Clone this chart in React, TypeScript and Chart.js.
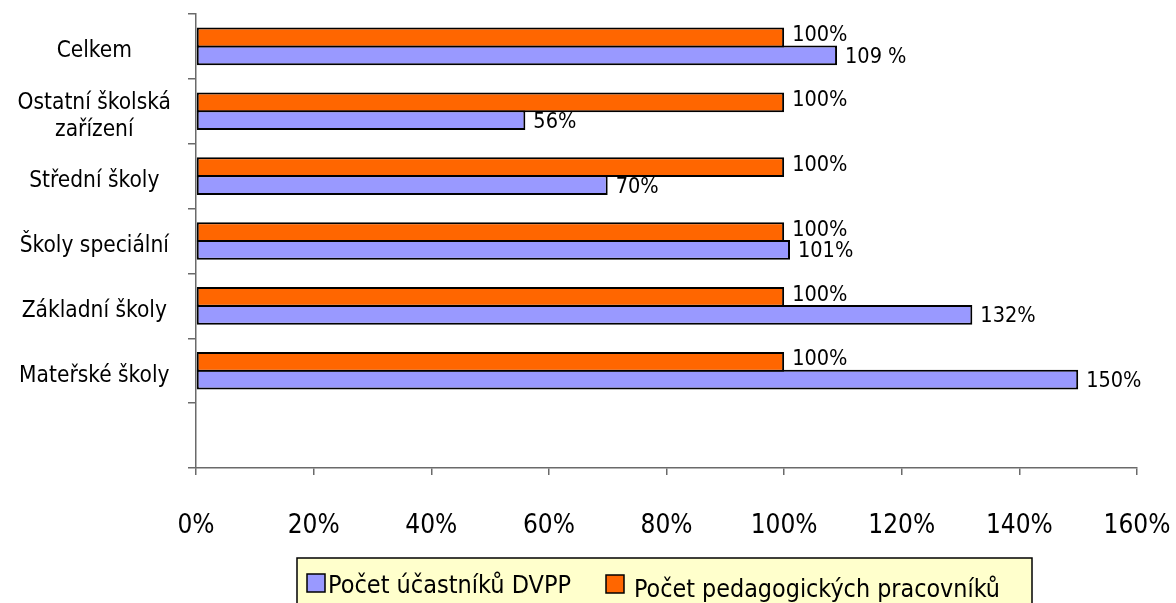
import React, { useEffect, useRef } from "react";
import { Chart, registerables } from "chart.js";

Chart.register(...registerables);

const categories: (string | string[])[] = [
  "Celkem",
  ["Ostatní školská", "zařízení"],
  "Střední školy",
  "Školy speciální",
  "Základní školy",
  "Mateřské školy",
  "",
];
const ucastniciDVPP = [109, 56, 70, 101, 132, 150, null];
const pedagogictiPracovnici = [100, 100, 100, 100, 100, 100, null];
const ucastniciLabels = ["109 %", "56%", "70%", "101%", "132%", "150%", ""];
const pracovniciLabels = ["100%", "100%", "100%", "100%", "100%", "100%", ""];
const xTickLabels = ["0%", "20%", "40%", "60%", "80%", "100%", "120%", "140%", "160%"];
const seriesNames = ["Počet účastníků DVPP", "Počet pedagogických pracovníků"];

const BLUE = "#9999FF";
const ORANGE = "#FF6600";
const AXIS = "#6a6a6a";
const FONT = "'DejaVu Sans Condensed', 'DejaVu Sans', sans-serif";

const zeroPadding = (scale: any) => {
  scale.paddingTop = 0;
  scale.paddingBottom = 0;
  scale.paddingLeft = 0;
  scale.paddingRight = 0;
};

const dataLabelPlugin = {
  id: "dataLabels",
  afterDatasetsDraw(chart: any) {
    const ctx = chart.ctx;
    ctx.save();
    ctx.fillStyle = "#000";
    ctx.font = `21.5px ${FONT}`;
    ctx.textAlign = "left";
    ctx.textBaseline = "middle";
    chart.data.datasets.forEach((ds: any, di: number) => {
      const meta = chart.getDatasetMeta(di);
      const labels: string[] = ds.valueLabels;
      meta.data.forEach((el: any, i: number) => {
        if (ds.data[i] == null || !labels[i]) return;
        const dy = di === 0 ? -2 : 2;
        ctx.fillText(labels[i], el.x + 8, el.y + dy);
      });
    });
    ctx.restore();
  },
};

const legendPlugin = {
  id: "boxLegend",
  afterDraw(chart: any) {
    const ctx = chart.ctx;
    const ds = chart.data.datasets;
    ctx.save();
    ctx.fillStyle = "#FFFFCC";
    ctx.strokeStyle = "#000";
    ctx.lineWidth = 1.5;
    ctx.fillRect(297, 558, 735, 60);
    ctx.strokeRect(297, 558, 735, 60);
    const items = [
      { color: ds[1].backgroundColor, text: ds[1].label, sx: 307, sy: 574, tx: 328, ty: 593, w: 244 },
      { color: ds[0].backgroundColor, text: ds[0].label, sx: 606, sy: 575, tx: 634, ty: 597, w: 366 },
    ];
    ctx.font = `25px ${FONT}`;
    ctx.textBaseline = "alphabetic";
    ctx.textAlign = "left";
    items.forEach((it) => {
      ctx.fillStyle = it.color;
      ctx.fillRect(it.sx, it.sy, 18, 18);
      ctx.strokeStyle = "#000";
      ctx.lineWidth = 1.5;
      ctx.strokeRect(it.sx, it.sy, 18, 18);
      ctx.fillStyle = "#000";
      ctx.fillText(it.text, it.tx, it.ty, it.w);
    });
    ctx.restore();
  },
};

export default function App() {
  const canvasRef = useRef<HTMLCanvasElement>(null);

  useEffect(() => {
    document.body.style.margin = "0";
    const canvas = canvasRef.current;
    if (!canvas) return;
    const chart = new Chart(canvas, {
      type: "bar",
      data: {
        labels: categories as any,
        datasets: [
          {
            label: seriesNames[1],
            data: pedagogictiPracovnici as any,
            backgroundColor: ORANGE,
            borderColor: "#000",
            borderWidth: 2,
            borderSkipped: false,
            barPercentage: 1.11,
            categoryPercentage: 0.55,
            valueLabels: pracovniciLabels,
          } as any,
          {
            label: seriesNames[0],
            data: ucastniciDVPP as any,
            backgroundColor: BLUE,
            borderColor: "#000",
            borderWidth: 2,
            borderSkipped: false,
            barPercentage: 1.11,
            categoryPercentage: 0.55,
            valueLabels: ucastniciLabels,
          } as any,
        ],
      },
      options: {
        indexAxis: "y",
        responsive: false,
        maintainAspectRatio: false,
        animation: false,
        devicePixelRatio: 1,
        layout: { padding: { left: 0, top: 14, right: 39, bottom: 0 } },
        plugins: {
          legend: { display: false },
          tooltip: { enabled: false },
          title: { display: false },
        },
        scales: {
          x: {
            type: "linear",
            min: 0,
            max: 160,
            afterFit: (scale: any) => {
              scale.height = 135;
              zeroPadding(scale);
            },
            ticks: {
              stepSize: 20,
              color: "#000",
              padding: 36,
              font: { family: FONT, size: 26 },
              callback: (_v: any, i: number) => xTickLabels[i],
            },
            grid: {
              drawOnChartArea: false,
              drawTicks: true,
              tickLength: 7,
              color: AXIS,
              lineWidth: 1.5,
            },
            border: { display: true, color: AXIS, width: 1.5 },
          },
          y: {
            type: "category",
            afterFit: (scale: any) => {
              scale.width = 196;
              zeroPadding(scale);
            },
            ticks: {
              color: "#000",
              padding: 17,
              crossAlign: "center",
              autoSkip: false,
              labelOffset: 5,
              font: { family: FONT, size: 22.5 },
            },
            grid: {
              drawOnChartArea: false,
              drawTicks: true,
              tickLength: 8,
              color: AXIS,
              lineWidth: 1.5,
              offset: true,
            },
            border: { display: true, color: AXIS, width: 1.5 },
          },
        },
      } as any,
      plugins: [dataLabelPlugin, legendPlugin],
    });
    return () => chart.destroy();
  }, []);

  return (
    <div style={{ position: "absolute", left: 0, top: 0, width: 1176, height: 603, background: "#fff" }}>
      <canvas ref={canvasRef} width={1176} height={603} style={{ width: 1176, height: 603, display: "block" }} />
    </div>
  );
}
